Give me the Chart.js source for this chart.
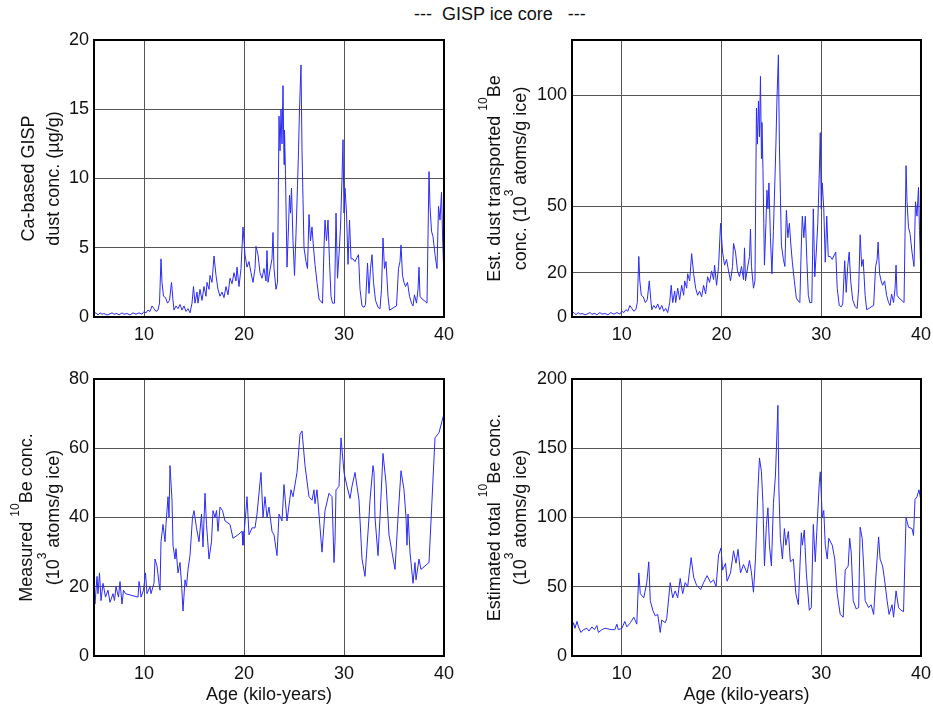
<!DOCTYPE html>
<html>
<head>
<meta charset="utf-8">
<script src="https://cdn.jsdelivr.net/npm/chart.js@4.4.0/dist/chart.umd.min.js"></script>
<style>
html, body { margin: 0; padding: 0; background: #fff; overflow: hidden; }
body { width: 933px; height: 706px; position: relative; font-family: "Liberation Sans", Arial, sans-serif; }
.box { position: absolute; }
#title { position: absolute; left: 414px; top: 4px; font-size: 18px; white-space: pre; color: #111; }
</style>
</head>
<body>
<div id="title">---  GISP ice core   ---</div>
<div class="box" style="left:0;top:0;width:466px;height:345px"><canvas id="c1"></canvas></div>
<div class="box" style="left:466px;top:0;width:472px;height:345px"><canvas id="c2"></canvas></div>
<div class="box" style="left:0;top:340px;width:466px;height:366px"><canvas id="c3"></canvas></div>
<div class="box" style="left:466px;top:340px;width:472px;height:366px"><canvas id="c4"></canvas></div>
<script>
// ages in kilo-years for the Ca-based dust record (top two panels)
const ageDust = [5.0,5.2,5.4,5.6,5.8,6.0,6.3,6.5,6.8,7.0,7.3,7.5,7.8,8.0,8.3,8.6,8.9,9.2,9.5,9.8,
  10.0,10.2,10.4,10.6,10.8,11.0,11.2,11.4,11.55,11.7,11.8,11.95,12.15,12.35,12.55,12.75,12.9,13.0,13.2,13.4,
  13.6,13.8,14.0,14.2,14.4,14.6,14.8,14.95,15.1,15.3,15.4,15.6,15.8,16.0,16.2,16.3,16.5,16.6,16.8,17.0,
  17.2,17.4,17.6,17.8,18.0,18.2,18.4,18.6,18.8,19.0,19.2,19.3,19.5,19.7,19.9,20.1,20.3,20.5,20.7,20.9,
  21.1,21.2,21.4,21.6,21.8,22.0,22.2,22.3,22.4,22.6,22.8,22.9,23.0,23.2,23.35,23.5,23.6,23.7,23.8,23.9,
  24.0,24.05,24.15,24.3,24.45,24.55,24.65,24.75,24.9,25.05,25.2,25.35,25.45,25.55,25.7,25.8,25.9,26.0,26.2,26.35,
  26.5,26.65,26.8,26.95,27.1,27.3,27.5,27.7,27.85,28.0,28.1,28.25,28.4,28.55,28.7,28.85,29.05,29.2,29.35,29.5,
  29.65,29.8,29.9,30.0,30.1,30.25,30.4,30.55,30.7,30.9,31.1,31.3,31.45,31.6,31.8,32.0,32.15,32.35,32.5,32.65,
  32.8,32.95,33.15,33.4,33.6,33.75,33.9,34.05,34.2,34.4,34.55,34.8,35.0,35.25,35.45,35.6,35.7,35.85,36.0,36.15,
  36.35,36.55,36.75,36.9,37.05,37.25,37.4,37.5,37.6,37.8,38.0,38.3,38.5,38.6,38.75,38.9,39.1,39.3,39.45,39.6,
  39.75,39.85,39.95];
const dustConc = [0.25,0.3,0.15,0.3,0.2,0.25,0.15,0.2,0.3,0.2,0.25,0.15,0.3,0.2,0.25,0.15,0.3,0.2,0.3,0.2,
  0.4,0.3,0.5,0.4,0.8,0.6,0.4,0.5,1.0,4.2,2.5,1.5,1.4,1.0,1.2,2.5,1.2,0.5,0.8,0.6,
  0.9,0.5,0.8,0.4,0.6,0.3,1.0,2.2,1.0,1.8,1.0,2.0,1.2,2.2,1.5,2.5,2.0,3.0,2.5,4.4,
  3.0,2.0,1.5,1.8,1.4,2.2,1.6,2.8,2.4,3.2,2.6,3.6,2.2,3.5,6.5,4.5,3.6,4.0,3.2,2.5,
  3.5,5.1,4.5,3.2,2.8,3.5,2.6,4.8,2.5,3.4,4.2,6.1,3.5,2.0,2.5,14.5,12.0,15.0,12.5,16.7,
  11.0,13.5,10.3,3.6,6.5,8.8,7.5,9.3,5.5,3.0,6.0,9.5,12.0,15.0,18.2,12.0,8.5,5.0,4.0,3.5,
  7.4,5.5,6.5,5.0,3.8,2.5,1.3,1.1,1.0,5.0,7.0,5.5,7.0,4.0,1.5,1.0,1.0,7.5,2.8,4.5,
  6.5,10.0,12.8,7.5,9.3,7.5,3.8,7.0,4.2,4.2,4.0,4.3,4.5,2.0,0.8,0.7,0.9,3.9,1.7,3.5,
  4.5,2.5,1.2,0.7,0.6,2.0,5.7,3.5,4.0,1.5,0.5,0.6,0.7,0.8,3.5,4.0,5.2,3.0,2.5,2.2,
  2.5,1.5,1.0,0.8,1.6,1.0,2.0,3.6,1.5,1.3,1.2,1.0,10.5,8.0,6.2,5.8,4.5,3.5,8.0,7.0,
  9.0,6.0,3.8];
const dustBe = [1.6,2.0,1.0,2.0,1.3,1.6,1.0,1.3,2.0,1.3,1.6,1.0,2.0,1.3,1.6,1.0,2.0,1.3,2.0,1.3,
  2.6,2.0,3.3,2.6,5.2,3.9,2.6,3.3,6.5,27.3,16.3,9.8,9.1,6.5,7.8,16.3,7.8,3.3,5.2,3.9,
  5.9,3.3,5.2,2.6,3.9,2.0,6.5,14.3,6.5,11.7,6.5,13.0,7.8,14.3,9.8,16.3,13.0,19.5,16.3,28.6,
  19.5,13.0,9.8,11.7,9.1,14.3,10.4,18.2,15.6,20.8,16.9,23.4,14.3,22.8,42.3,29.3,23.4,26.0,20.8,16.3,
  22.8,33.2,29.3,20.8,18.2,22.8,16.9,31.2,16.3,22.1,27.3,39.7,22.8,13.0,16.3,94.3,78.0,97.5,81.3,108.6,
  71.5,87.8,67.0,23.4,42.3,57.2,48.8,60.5,35.8,19.5,39.0,61.8,78.0,97.5,118.3,78.0,55.3,32.5,26.0,22.8,
  48.1,35.8,42.3,32.5,24.7,16.3,8.5,7.2,6.5,32.5,45.5,35.8,45.5,26.0,9.8,6.5,6.5,48.8,18.2,29.3,
  42.3,65.0,83.2,48.8,60.5,48.8,24.7,45.5,27.3,27.3,26.0,28.0,29.3,13.0,5.2,4.6,5.9,25.4,11.1,22.8,
  29.3,16.3,7.8,4.6,3.9,13.0,37.1,22.8,26.0,9.8,3.3,3.9,4.6,5.2,22.8,26.0,33.8,19.5,16.3,14.3,
  16.3,9.8,6.5,5.2,10.4,6.5,13.0,23.4,9.8,8.5,7.8,6.5,68.3,52.0,40.3,37.7,29.3,22.8,52.0,45.5,
  58.5,39.0,24.7];

// measured 10Be record
const ageBe = [5.0,5.1,5.3,5.4,5.55,5.7,5.9,6.15,6.4,6.6,6.9,7.05,7.2,7.45,7.6,7.8,7.95,8.15,9.4,9.5,
  9.6,9.7,9.95,10.15,10.3,10.6,10.7,11.0,11.1,11.3,11.5,11.6,11.7,11.9,12.1,12.2,12.4,12.5,12.6,12.8,
  12.9,13.1,13.2,13.4,13.6,13.75,13.9,14.1,14.25,14.4,14.6,14.85,15.0,15.25,15.5,15.75,15.9,16.1,16.25,16.5,
  16.75,16.9,17.1,17.25,17.4,17.6,17.85,18.1,18.6,18.9,19.4,19.8,19.9,20.2,20.3,20.5,20.8,21.1,21.3,21.7,
  21.9,22.1,22.3,22.5,22.8,23.0,23.3,23.5,23.8,24.0,24.3,24.7,24.9,25.3,25.6,25.8,26.1,26.5,26.8,27.0,
  27.1,27.3,27.8,28.1,28.5,28.8,29.0,29.1,29.2,29.5,29.7,30.0,30.3,30.6,30.8,31.1,31.5,31.8,32.1,32.5,
  32.6,32.9,33.0,33.1,33.4,33.6,33.9,34.2,34.5,34.8,35.1,35.4,35.7,36.0,36.2,36.3,36.4,36.6,36.9,37.1,
  37.2,37.5,37.7,38.1,38.5,38.8,39.1,39.5,40.0];
const measuredBe = [17,15,23,18,24,16,21,17,19,15.5,18,16,20,17,21.5,15,19,18,17,21.5,
  20,17,19,24,18,20,18,21,28,26,21,19,33,38,33,38,46,40,55,45,
  32,28,31,24,27,21,13,22,20,25,29,40,42,37,33,41,31.5,47,38,28,
  33,42,40,42,36,43,42,39,38,34,35,36,32,42,46,35,37,37,41,53,
  40,46,40,43,36,35,29,41,39,49.5,39,48,46,53,64,65,55,46,45,48,
  44,48,30,42,47,46,27,33,48,49,63,53,49,45.5,49,53,45,28,23,40,
  45,55,53,40,29,40,58.5,50,35,30,25,40,53.5,48,40,32,41,30,21,27,
  22,28,25,26,27,45,63,64.5,70];

// estimated total 10Be record
const ageTotal = [5.0,5.15,5.3,5.5,5.65,5.9,6.15,6.5,6.7,7.0,7.25,7.5,7.65,8.0,8.3,9.0,9.3,9.5,9.65,10.0,
  10.3,10.5,10.85,11.2,11.5,11.7,11.85,12.2,12.5,12.7,12.85,13.1,13.35,13.6,13.85,14.0,14.35,14.5,14.85,15.1,
  15.35,15.6,15.85,16.1,16.35,16.6,16.95,17.2,17.5,17.9,18.2,18.55,18.9,19.2,19.45,19.7,19.95,20.1,20.4,20.55,
  20.9,21.2,21.45,21.65,21.9,22.2,22.55,22.8,23.0,23.2,23.4,23.65,23.8,24.0,24.15,24.3,24.5,24.65,24.8,25.0,
  25.2,25.4,25.5,25.65,25.75,25.9,26.1,26.3,26.45,26.7,26.9,27.2,27.45,27.7,28.0,28.1,28.3,28.5,28.8,29.0,
  29.2,29.4,29.55,29.8,29.9,30.1,30.25,30.4,30.6,30.75,31.1,31.35,31.6,31.9,32.2,32.4,32.7,32.85,33.0,33.2,
  33.5,33.75,33.9,34.1,34.25,34.4,34.75,35.0,35.25,35.5,35.75,35.9,36.15,36.35,36.6,36.8,37.1,37.25,37.5,37.75,
  38.0,38.25,38.5,38.75,39.1,39.25,39.4,39.6,39.8,40.0];
const totalBe = [20,24,20,25,21,17,19,20,18,21,19,22,17,19,20,19,19,23,19,20,
  25,21,24,28,23,60,45,42,53,68,40,33,29,30,17,26,24,27,53,42,
  47,42,56,45,53,50,71,57,51,48,53,58,53,55,50,73,78,62,67,54,
  60,76,67,77,60,66,60,69,60,46,70,120,143,133,110,65,95,107,80,65,
  110,130,150,181,120,85,70,92,80,90,68,70,45,37,89,80,91,60,33,35,
  95,68,90,125,133,100,105,80,70,85,80,70,45,30,28,62,65,85,75,40,
  34,35,93,85,65,40,35,37,30,60,86,70,65,55,40,30,37,28,47,35,
  33,32,100,93,92,87,113,115,120,112];

// tick labels
const ageTicks = [10, 20, 30, 40];
const dustTicks = [0, 5, 10, 15, 20];
const dustBeTicks = [0, 20, 50, 100];
const measuredTicks = [0, 20, 40, 60, 80];
const totalTicks = [0, 50, 100, 150, 200];

const FONT = '"Liberation Sans", Arial, sans-serif';
Chart.defaults.font.family = FONT;
Chart.defaults.font.size = 18;
Chart.defaults.color = '#111';

function pts(xs, ys) {
  return xs.map((x, i) => ({x: x, y: ys[i]}));
}

// rotated y title, "^{..}" marks a superscript
function drawRich(ctx, text, x, cy) {
  const parts = text.split(/\^\{|\}/);
  const fonts = parts.map((p, i) => (i % 2 ? '12px ' : '18px ') + FONT);
  let w = 0;
  parts.forEach((p, i) => { ctx.font = fonts[i]; w += ctx.measureText(p).width; });
  ctx.save();
  ctx.translate(x, cy);
  ctx.rotate(-Math.PI / 2);
  ctx.textAlign = 'left';
  ctx.textBaseline = 'alphabetic';
  let px = -w / 2;
  parts.forEach((p, i) => {
    ctx.font = fonts[i];
    ctx.fillText(p, px, i % 2 ? -6 : 6.5);
    px += ctx.measureText(p).width;
  });
  ctx.restore();
}

const framePlugin = {
  id: 'frame',
  afterDraw(chart, args, opts) {
    const ctx = chart.ctx, a = chart.chartArea;
    ctx.save();
    ctx.strokeStyle = '#000';
    ctx.lineWidth = 2;
    ctx.strokeRect(a.left, a.top, a.right - a.left, a.bottom - a.top);
    ctx.fillStyle = '#111';
    const cy = (a.top + a.bottom) / 2;
    opts.lines.forEach((line, i) => drawRich(ctx, line, opts.xs[i], cy));
    if (opts.xTitle) {
      ctx.font = '18px ' + FONT;
      ctx.textAlign = 'center';
      ctx.textBaseline = 'middle';
      ctx.fillText(opts.xTitle, (a.left + a.right) / 2, a.bottom + 39);
    }
    ctx.restore();
  }
};

function makeChart(id, ages, values, yMax, yTicks, lines, xs, xTitle, axisW, xAxisH, padTop, padRight) {
  return new Chart(document.getElementById(id), {
    type: 'line',
    data: {
      datasets: [{
        data: pts(ages, values),
        borderColor: '#2b2bf5',
        borderWidth: 1,
        pointRadius: 0,
        tension: 0,
        fill: false
      }]
    },
    options: {
      responsive: true,
      maintainAspectRatio: false,
      animation: false,
      layout: {padding: {top: padTop, right: padRight, left: 0, bottom: 0}},
      plugins: {
        legend: {display: false},
        tooltip: {enabled: false},
        frame: {lines: lines, xs: xs, xTitle: xTitle}
      },
      scales: {
        x: {
          type: 'linear', min: 5, max: 40,
          afterBuildTicks: s => { s.ticks = ageTicks.map(v => ({value: v})); },
          afterFit: s => { s.height = xAxisH; },
          grid: {color: '#555', lineWidth: 1, drawTicks: false},
          border: {display: false},
          ticks: {padding: 7, maxRotation: 0}
        },
        y: {
          type: 'linear', min: 0, max: yMax,
          afterBuildTicks: s => { s.ticks = yTicks.map(v => ({value: v})); },
          afterFit: s => { s.width = axisW; },
          grid: {color: '#555', lineWidth: 1, drawTicks: false},
          border: {display: false},
          ticks: {padding: 5}
        }
      }
    },
    plugins: [framePlugin]
  });
}

makeChart('c1', ageDust, dustConc, 20, dustTicks,
  ['Ca-based GISP', 'dust conc. (\u00b5g/g)'], [27, 52], null, 94, 28, 40, 22);
makeChart('c2', ageDust, dustBe, 125, dustBeTicks,
  ['Est. dust transported ^{10}Be', 'conc. (10^{3} atoms/g ice)'], [27, 53], null, 106, 28, 40, 15);
makeChart('c3', ageBe, measuredBe, 80, measuredTicks,
  ['Measured ^{10}Be conc.', '(10^{3} atoms/g ice)'], [25, 52], 'Age (kilo-years)', 94, 50, 39, 22);
makeChart('c4', ageTotal, totalBe, 200, totalTicks,
  ['Estimated total ^{10}Be conc.', '(10^{3} atoms/g ice)'], [27, 53], 'Age (kilo-years)', 106, 50, 39, 15);
</script>
</body>
</html>
